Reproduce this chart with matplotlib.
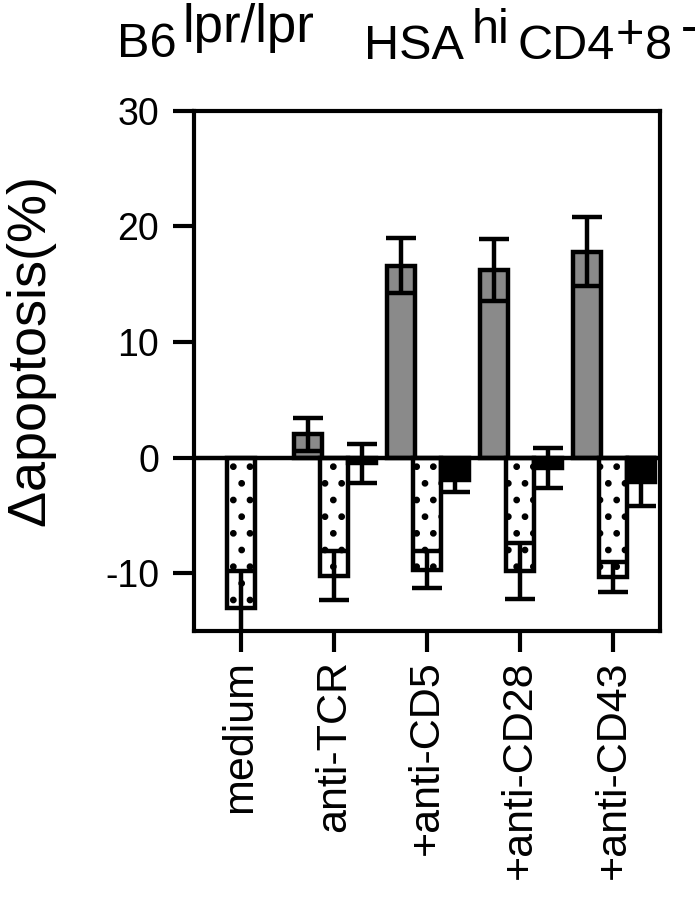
import matplotlib
matplotlib.use('Agg')
import matplotlib.pyplot as plt
import numpy as np

# conditions along the x axis
conditions = ['medium', 'anti-TCR', '+anti-CD5', '+anti-CD28', '+anti-CD43']

# delta apoptosis (%) for the three bar series
gray_vals = [np.nan, 2.0, 16.6, 16.2, 17.8]
gray_err = [np.nan, 1.4, 2.4, 2.7, 3.0]
dot_vals = [-13.0, -10.2, -9.7, -9.8, -10.3]
dot_err = [3.2, 2.1, 1.6, 2.4, 1.3]
black_vals = [np.nan, -0.5, -1.9, -0.9, -2.1]
black_err = [np.nan, 1.7, 1.1, 1.7, 2.1]

yticks = [-10, 0, 10, 20, 30]

# title pieces: (text, x px, baseline px from top, size)
title_parts = [('B6', 117, 57, 35), ('lpr/lpr', 182, 42, 38), ('HSA', 364, 59, 35),
               ('hi', 472, 43, 35), ('CD4', 517, 59, 35), ('+', 616, 48, 35),
               ('8', 645, 59, 35), ('-', 681, 42, 35)]

plt.rcParams['font.family'] = ['Liberation Sans', 'DejaVu Sans']
plt.rcParams['mathtext.fontset'] = 'custom'
plt.rcParams['mathtext.rm'] = 'Liberation Sans'
plt.rcParams['hatch.linewidth'] = 2.4


def plot_bars():
    fig = plt.figure(figsize=(7, 8.99), dpi=100)
    W, H = 700.0, 899.0
    ax = fig.add_axes([0.277, 0.298, 0.666, 0.579])
    x = np.arange(len(conditions))
    w = 0.30
    lw = 3.2

    ax.bar(x - 0.28, gray_vals, w, color='#8a8a8a', edgecolor='black', linewidth=lw, zorder=2)
    ax.bar(x, dot_vals, w, color='white', edgecolor='black', hatch='.', linewidth=lw, zorder=2)
    ax.bar(x + 0.30, black_vals, w, color='black', edgecolor='black', linewidth=lw, zorder=2)

    ekw = dict(fmt='none', ecolor='black', elinewidth=3.2, capsize=11, capthick=3.2, zorder=3)
    ax.errorbar(x - 0.28, gray_vals, yerr=gray_err, **ekw)
    ax.errorbar(x, dot_vals, yerr=dot_err, **ekw)
    ax.errorbar(x + 0.30, black_vals, yerr=black_err, **ekw)

    ax.axhline(0, color='black', linewidth=3.2, zorder=4)

    ax.set_xlim(-0.5, 4.5)
    ax.set_ylim(-15, 30)
    ax.set_yticks(yticks)
    ax.set_yticklabels([str(t) if t >= 0 else '-' + str(-t) for t in yticks], fontsize=27)
    ax.set_xticks(x)
    ax.set_xticklabels(conditions, rotation=90, fontsize=31, va='top')
    ax.tick_params(axis='y', direction='out', length=15, width=3, pad=10)
    ax.tick_params(axis='x', direction='out', length=15, width=3, pad=6)
    for s in ax.spines.values():
        s.set_linewidth(3)
    ax.set_ylabel(r'$\Delta$apoptosis(%)', fontsize=39)
    ax.yaxis.set_label_coords(-0.29, 0.535)

    for txt, px, py, fs in title_parts:
        fig.text(px / W, 1 - py / H, txt, fontsize=fs, ha='left', va='baseline')
    fig.savefig('out.png', dpi=100)


if __name__ == '__main__':
    plot_bars()
